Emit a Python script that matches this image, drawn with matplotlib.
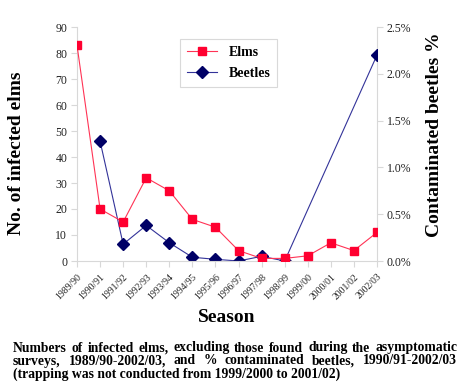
import matplotlib
matplotlib.use("Agg")
import matplotlib.pyplot as plt
import numpy as np

plt.rcParams["font.family"] = ["Liberation Serif", "DejaVu Serif"]

seasons = ["1989/90", "1990/91", "1991/92", "1992/93", "1993/94", "1994/95", "1995/96",
           "1996/97", "1997/98", "1998/99", "1999/00", "2000/01", "2001/02", "2002/03"]
elms = [83, 20, 15, 32, 27, 16, 13, 4, 1, 1, 2, 7, 4, 11]
# % contaminated beetles; no trapping 1999/00 - 2001/02
beetles = [np.nan, 1.28, 0.18, 0.38, 0.195, 0.04, 0.018, 0.0, 0.05, 0.0,
           np.nan, np.nan, np.nan, 2.2]

caption_lines = [
    "Numbers of infected elms, excluding those found during the asymptomatic",
    "surveys, 1989/90-2002/03, and % contaminated beetles, 1990/91-2002/03",
    "(trapping was not conducted from 1999/2000 to 2001/02)",
]

W, H = 461, 390
fig = plt.figure(figsize=(W / 100, H / 100), dpi=100)
ax = fig.add_axes([77 / W, 1 - 261 / H, 300 / W, 234 / H])
ax2 = ax.twinx()

x = np.arange(len(seasons))
b = np.array(beetles, dtype=float)
ok = ~np.isnan(b)

l1, = ax.plot(x, elms, color="#ff3355", lw=0.8, marker="s", ms=5.5,
              mfc="#ff0030", mec="#ff0030", label="Elms", zorder=3)
l2, = ax2.plot(x[ok], b[ok], color="#333399", lw=0.8, marker="D", ms=6,
               mfc="#000066", mec="#000066", label="Beetles", zorder=3)

ax.set_xlim(0, len(seasons) - 1)
ax.set_ylim(0, 90)
ax.set_yticks(range(0, 91, 10))
ax2.set_ylim(0, 2.5)
ax2.set_yticks(np.arange(0, 2.51, 0.5))
ax2.set_yticklabels([f"{v:.1f}%" for v in np.arange(0, 2.51, 0.5)])

ax.set_xticks(x)
ax.set_xticklabels(seasons, rotation=45, ha="right", va="top",
                   rotation_mode="anchor", fontsize=7)

for a in (ax, ax2):
    for s in a.spines.values():
        s.set_visible(False)
    a.tick_params(axis="y", labelsize=8.5, length=4, width=0.8, color="#d8d8d8",
                  colors="#222222", pad=3)
ax.spines["left"].set_visible(True)
ax.spines["left"].set_color("#d8d8d8")
ax.spines["bottom"].set_visible(True)
ax.spines["bottom"].set_color("#d8d8d8")
ax2.spines["right"].set_visible(True)
ax2.spines["right"].set_color("#d8d8d8")
ax.tick_params(axis="x", length=4, width=0.8, color="#d8d8d8", pad=4)
for t in ax.get_xticklabels():
    t.set_color("#222222")
ax.set_zorder(ax2.get_zorder() + 1)
ax.patch.set_visible(False)

leg = ax.legend([l1, l2], ["Elms", "Beetles"], loc="upper left",
                bbox_to_anchor=((173 - 77) / 300, 1 - (32 - 27) / 234),
                prop={"weight": "bold", "size": 10}, frameon=True, fancybox=False,
                handlelength=2.2, borderpad=0.5, labelspacing=0.6)
leg.get_frame().set_edgecolor("#d0d0d0")
leg.get_frame().set_linewidth(0.8)

fig.text(17 / W, 1 - 153 / H, "No. of infected elms", rotation=90, ha="center",
         va="center", fontsize=14, fontweight="bold")
fig.text(434 / W, 1 - 135 / H, "Contaminated beetles %", rotation=90, ha="center",
         va="center", fontsize=14, fontweight="bold")
fig.text(227 / W, 1 - 318 / H, "Season", ha="center", va="center",
         fontsize=14, fontweight="bold")

# justified caption
renderer = fig.canvas.get_renderer()
left, right = 13, 457
cap_size = 9.8
baseline_y = [351.5, 364.5, 377.5]
for i, line in enumerate(caption_lines):
    yy = 1 - baseline_y[i] / H
    if i == len(caption_lines) - 1:
        fig.text(left / W, yy, line, ha="left", va="baseline", fontsize=cap_size,
                 fontweight="bold")
        continue
    words = line.split()
    objs = [fig.text(0, yy, w, ha="left", va="baseline", fontsize=cap_size,
                     fontweight="bold") for w in words]
    widths = [o.get_window_extent(renderer).width for o in objs]
    gap = (right - left - sum(widths)) / (len(words) - 1)
    pos = left
    for o, wd in zip(objs, widths):
        o.set_x(pos / W)
        pos += wd + gap

fig.savefig("out.png", dpi=100)
